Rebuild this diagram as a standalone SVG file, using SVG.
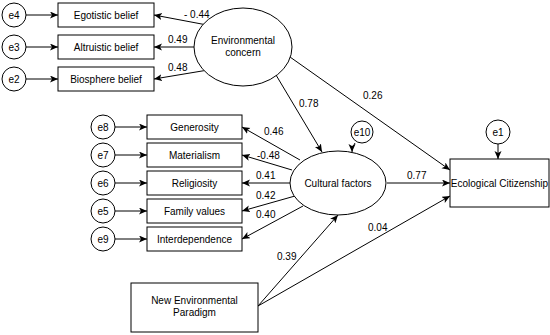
<svg xmlns="http://www.w3.org/2000/svg" width="550" height="335" viewBox="0 0 550 335">
<style>
.n{fill:#fff;stroke:#000;stroke-width:1}
.t{font-family:"Liberation Sans",Arial,sans-serif;font-size:10px;fill:#000;text-anchor:middle}
.l{font-family:"Liberation Sans",Arial,sans-serif;font-size:10px;fill:#000}
.c{stroke:#000;stroke-width:1;fill:none;marker-end:url(#a)}
</style>
<defs>
<marker id="a" markerWidth="9" markerHeight="8" refX="8" refY="3.5" orient="auto" markerUnits="userSpaceOnUse">
<path d="M0,0 L8,3.5 L0,7 L2,3.5 z" fill="#000"/>
</marker>
</defs>
<rect width="550" height="335" fill="#fff"/>
<g id="connectors">
<line class="c" x1="26" y1="15" x2="58" y2="15"/>
<line class="c" x1="26" y1="47" x2="58" y2="47"/>
<line class="c" x1="26" y1="79" x2="58" y2="79"/>
<line class="c" x1="115" y1="127" x2="147" y2="127"/>
<line class="c" x1="115" y1="155" x2="147" y2="155"/>
<line class="c" x1="115" y1="183" x2="147" y2="183"/>
<line class="c" x1="115" y1="211" x2="147" y2="211"/>
<line class="c" x1="115" y1="239" x2="147" y2="239"/>
<line class="c" x1="207" y1="25" x2="154" y2="15"/>
<line class="c" x1="194" y1="47" x2="154" y2="47"/>
<line class="c" x1="208" y1="70" x2="154" y2="79"/>
<line class="c" x1="276" y1="75" x2="322" y2="152"/>
<line class="c" x1="290" y1="57" x2="450" y2="170"/>
<line class="c" x1="300" y1="160" x2="242" y2="127"/>
<line class="c" x1="292" y1="170" x2="242" y2="155"/>
<line class="c" x1="290" y1="183" x2="242" y2="183"/>
<line class="c" x1="295" y1="196" x2="242" y2="211"/>
<line class="c" x1="303" y1="206" x2="242" y2="239"/>
<line class="c" x1="387" y1="183" x2="450" y2="183"/>
<path class="c" d="M355,143 Q352,147 352,152"/>
<line class="c" x1="498" y1="144" x2="498" y2="159"/>
<line class="c" x1="258" y1="306" x2="338" y2="215"/>
<line class="c" x1="258" y1="306" x2="450" y2="196"/>
</g>
<g id="labels">
<text class="l" x="184" y="18">- 0.44</text>
<text class="l" x="168" y="43">0.49</text>
<text class="l" x="168" y="71">0.48</text>
<text class="l" x="299" y="107">0.78</text>
<text class="l" x="363" y="99">0.26</text>
<text class="l" x="264" y="135">0.46</text>
<text class="l" x="257" y="159">-0.48</text>
<text class="l" x="256" y="179">0.41</text>
<text class="l" x="256" y="199">0.42</text>
<text class="l" x="256" y="218">0.40</text>
<text class="l" x="407" y="179">0.77</text>
<text class="l" x="368" y="231">0.04</text>
<text class="l" x="277" y="260">0.39</text>
</g>
<g id="e4"><circle class="n" cx="14" cy="15" r="12"/><text class="t" x="14" y="18.5">e4</text></g>
<g id="e3"><circle class="n" cx="14" cy="47" r="12"/><text class="t" x="14" y="50.5">e3</text></g>
<g id="e2"><circle class="n" cx="14" cy="79" r="12"/><text class="t" x="14" y="82.5">e2</text></g>
<g id="egotistic"><rect class="n" x="58" y="3" width="96" height="24"/><text class="t" x="106" y="18.5">Egotistic belief</text></g>
<g id="altruistic"><rect class="n" x="58" y="35" width="96" height="24"/><text class="t" x="106" y="50.5">Altruistic belief</text></g>
<g id="biosphere"><rect class="n" x="58" y="67" width="96" height="24"/><text class="t" x="106" y="82.5">Biosphere belief</text></g>
<g id="env-concern"><ellipse class="n" cx="243" cy="47" rx="49" ry="39"/><text class="t" x="243" y="44">Environmental</text><text class="t" x="243" y="56">concern</text></g>
<g id="e8"><circle class="n" cx="103" cy="127" r="12"/><text class="t" x="103" y="130.5">e8</text></g>
<g id="e7"><circle class="n" cx="103" cy="155" r="12"/><text class="t" x="103" y="158.5">e7</text></g>
<g id="e6"><circle class="n" cx="103" cy="183" r="12"/><text class="t" x="103" y="186.5">e6</text></g>
<g id="e5"><circle class="n" cx="103" cy="211" r="12"/><text class="t" x="103" y="214.5">e5</text></g>
<g id="e9"><circle class="n" cx="103" cy="239" r="12"/><text class="t" x="103" y="242.5">e9</text></g>
<g id="generosity"><rect class="n" x="147" y="115" width="95" height="24"/><text class="t" x="194.5" y="130.5">Generosity</text></g>
<g id="materialism"><rect class="n" x="147" y="143" width="95" height="24"/><text class="t" x="194.5" y="158.5">Materialism</text></g>
<g id="religiosity"><rect class="n" x="147" y="171" width="95" height="24"/><text class="t" x="194.5" y="186.5">Religiosity</text></g>
<g id="family"><rect class="n" x="147" y="199" width="95" height="24"/><text class="t" x="194.5" y="214.5">Family values</text></g>
<g id="interdependence"><rect class="n" x="147" y="227" width="95" height="24"/><text class="t" x="194.5" y="242.5">Interdependence</text></g>
<g id="cultural"><ellipse class="n" cx="338" cy="183" rx="48" ry="32"/><text class="t" x="338" y="186.5">Cultural factors</text></g>
<g id="e10"><circle class="n" cx="362" cy="132" r="11"/><text class="t" x="362" y="135.5">e10</text></g>
<g id="e1"><circle class="n" cx="498" cy="132" r="12"/><text class="t" x="498" y="135.5">e1</text></g>
<g id="eco"><rect class="n" x="450" y="159" width="99" height="48"/><text class="t" x="499.5" y="186.5">Ecological Citizenship</text></g>
<g id="nep"><rect class="n" x="131" y="283" width="127" height="49"/><text class="t" x="194.5" y="304">New Environmental</text><text class="t" x="194.5" y="316">Paradigm</text></g>
</svg>
